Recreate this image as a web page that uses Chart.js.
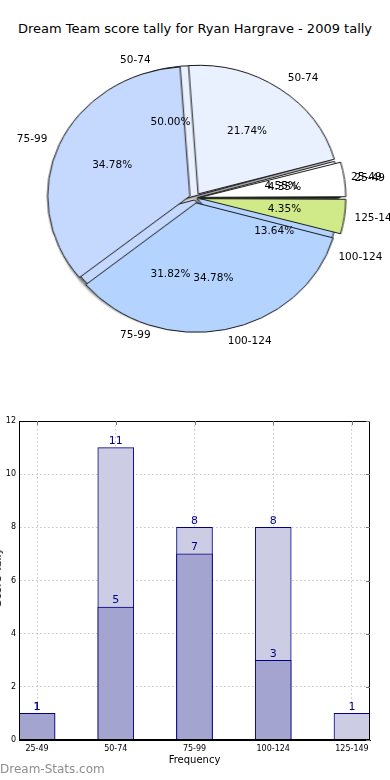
<!DOCTYPE html>
<html><head><meta charset="utf-8">
<script src="https://cdn.jsdelivr.net/npm/chart.js@4.4.0/dist/chart.umd.min.js"></script>
<style>
html,body{margin:0;padding:0;background:#fff;width:390px;height:780px;overflow:hidden;font-family:"DejaVu Sans",sans-serif;}
#title{position:absolute;left:0;top:21px;width:390px;text-align:center;font-size:13px;color:#000;white-space:nowrap;}
#pieWrap{position:absolute;left:54px;top:57px;width:282px;height:282px;transform:scaleX(1.10);transform-origin:141px 141px;}
#pieWrap canvas{position:absolute;left:0;top:0;}
#pieB{filter:drop-shadow(-2px 2px 1px rgba(0,0,0,0.5));}
#labels{position:absolute;left:0;top:0;}
#barC{position:absolute;left:0;top:405px;}
#ylab{position:absolute;left:-9px;top:548px;font-size:11px;writing-mode:vertical-rl;transform:rotate(180deg);color:#000;white-space:nowrap;}
#wm{position:absolute;left:0;top:762px;font-size:12px;color:#8e8e8e;white-space:nowrap;}
</style>
</head><body>
<div id="title">Dream Team score tally for Ryan Hargrave - 2009 tally</div>
<div id="pieWrap"><canvas id="pieB" width="282" height="282"></canvas><canvas id="pieA" width="282" height="282"></canvas></div>
<canvas id="labels" width="390" height="400"></canvas>
<canvas id="barC" width="390" height="375"></canvas>
<div id="ylab">Score Tally</div>
<div id="wm">Dream-Stats.com</div>
<script>
// ---- data ----
const pieACategories = ['25-49','50-74','75-99','100-124','125-149'];
const pieAValues     = [1, 5, 8, 8, 1];
const pieBCategories = ['25-49','50-74','75-99','100-124'];
const pieBValues     = [1, 11, 7, 3];
const barCategories  = ['25-49','50-74','75-99','100-124','125-149'];
const barLight       = [1, 11, 8, 8, 1];
const barDark        = [1, 5, 7, 3, null];
const yTicks         = [0, 2, 4, 6, 8, 10, 12];

const catColors = {'25-49':'#ffffff','50-74':'#e9f1ff','75-99':'#c5d9ff','100-124':'#b4d4ff','125-149':'#d0ea8a'};

function makePie(id, cats, vals, off, pad){
  const c = cats.slice().reverse(), v = vals.slice().reverse();
  return new Chart(document.getElementById(id), {
    type:'pie',
    data:{labels:c, datasets:[{data:v, backgroundColor:c.map(k=>catColors[k]), borderColor:'#1a1a1a', borderWidth:1, offset:off}]},
    options:{responsive:false, animation:false, rotation:90, layout:{padding:pad},
      plugins:{legend:{display:false}, tooltip:{enabled:false}}}
  });
}
const chartB = makePie('pieB', pieBCategories, pieBValues, 8, 8);
const chartA = makePie('pieA', pieACategories, pieAValues, 20, 2);

const SX = 1.10, PCX = 195, TOP = 57;
const lctx = document.getElementById('labels').getContext('2d');
function drawPieLabels(chart){
  const meta = chart.getDatasetMeta(0);
  const cats = chart.data.labels, vals = chart.data.datasets[0].data;
  const total = vals.reduce((a,b)=>a+b,0);
  meta.data.forEach((arc,i)=>{
    const p = arc.getProps(['x','y','startAngle','endAngle','outerRadius'], true);
    const mid = (p.startAngle+p.endAngle)/2;
    const off = (arc.options.offset || 0) / 4;  // Chart.js translates arcs by offset/4
    const c = Math.cos(mid), s = Math.sin(mid);
    const pos = (r)=>[PCX + c*(r+off)*SX, TOP + p.y + s*(r+off)];
    lctx.fillStyle = '#000';
    lctx.font = '10.5px "DejaVu Sans"';
    lctx.textBaseline = 'middle';
    const [px,py] = pos(0.6*p.outerRadius);
    lctx.textAlign = 'center';
    lctx.fillText((vals[i]/total*100).toFixed(2)+'%', px, py);
    const [lx,ly] = pos(1.1*p.outerRadius);
    lctx.textAlign = c > 0 ? 'left' : 'right';
    lctx.fillText(cats[i], lx, ly);
  });
}
drawPieLabels(chartB);
drawPieLabels(chartA);

// ---- bar chart ----
const framePlugin = {
  id:'frame',
  afterDraw(chart){
    const {ctx, chartArea:a, scales} = chart;
    ctx.save();
    ctx.strokeStyle = '#000'; ctx.lineWidth = 1;
    ctx.strokeRect(a.left+0.5, a.top+0.5, a.right-a.left-1, a.bottom-a.top-1);
    ctx.strokeStyle = '#777';
    scales.y.ticks.forEach(t=>{
      const y = Math.round(scales.y.getPixelForValue(t.value))+0.5;
      ctx.beginPath(); ctx.moveTo(a.right-4,y); ctx.lineTo(a.right,y); ctx.stroke();
    });
    scales.x.ticks.forEach(t=>{
      const x = Math.round(scales.x.getPixelForValue(t.value))+0.5;
      ctx.beginPath(); ctx.moveTo(x,a.top); ctx.lineTo(x,a.top+4); ctx.stroke();
    });
    ctx.restore();
  }
};
const valueLabels = {
  id:'vals',
  afterDatasetsDraw(chart){
    const ctx = chart.ctx;
    ctx.save();
    ctx.fillStyle = '#00008b';
    ctx.font = '11px "DejaVu Sans"';
    ctx.textAlign = 'center'; ctx.textBaseline = 'bottom';
    chart.data.datasets.forEach((ds,di)=>{
      chart.getDatasetMeta(di).data.forEach((bar,j)=>{
        const v = ds.data[j].y;
        if (v == null) return;
        ctx.fillText(String(v), bar.x, bar.y - 1);
      });
    });
    ctx.restore();
  }
};
const toPts = arr => arr.map((v,i)=>({x:i, y:v})).filter(p=>p.y!=null);
new Chart(document.getElementById('barC'), {
  type:'bar',
  data:{datasets:[
    {data:toPts(barDark), backgroundColor:'#a4a4d0', borderColor:'#000080', borderWidth:1, barThickness:36, grouped:false, order:0},
    {data:toPts(barLight), backgroundColor:'#ccccE4', borderColor:'#000080', borderWidth:1, barThickness:36, grouped:false, order:1}
  ]},
  options:{
    responsive:false, animation:false,
    layout:{padding:{top:16, right:20, left:0, bottom:0}},
    scales:{
      x:{type:'linear', min:-0.229, max:4.229, offset:false,
        afterBuildTicks:s=>{ s.ticks = barCategories.map((c,i)=>({value:i})); },
        ticks:{callback:(v)=>barCategories[v], font:{size:8, family:'DejaVu Sans'}, color:'#000', padding:4, maxRotation:0, autoSkip:false},
        grid:{color:'#c4c4c4', drawTicks:false, offset:false},
        border:{display:true, color:'#000', dash:[1.5,2.5]},
        title:{display:true, text:'Frequency', font:{size:10, family:'DejaVu Sans'}, color:'#000', padding:{top:0,bottom:14}},
        afterFit:s=>{ s.height = 40; }
      },
      y:{min:0, max:12,
        afterBuildTicks:s=>{ s.ticks = yTicks.map(v=>({value:v})); },
        ticks:{font:{size:8, family:'DejaVu Sans'}, color:'#000', padding:3},
        grid:{color:'#c4c4c4', drawTicks:false},
        border:{display:true, color:'#000', dash:[1.5,2.5]},
        afterFit:s=>{ s.width = 19; }
      }
    },
    plugins:{legend:{display:false}, tooltip:{enabled:false}}
  },
  plugins:[framePlugin, valueLabels]
});
</script>
</body></html>
